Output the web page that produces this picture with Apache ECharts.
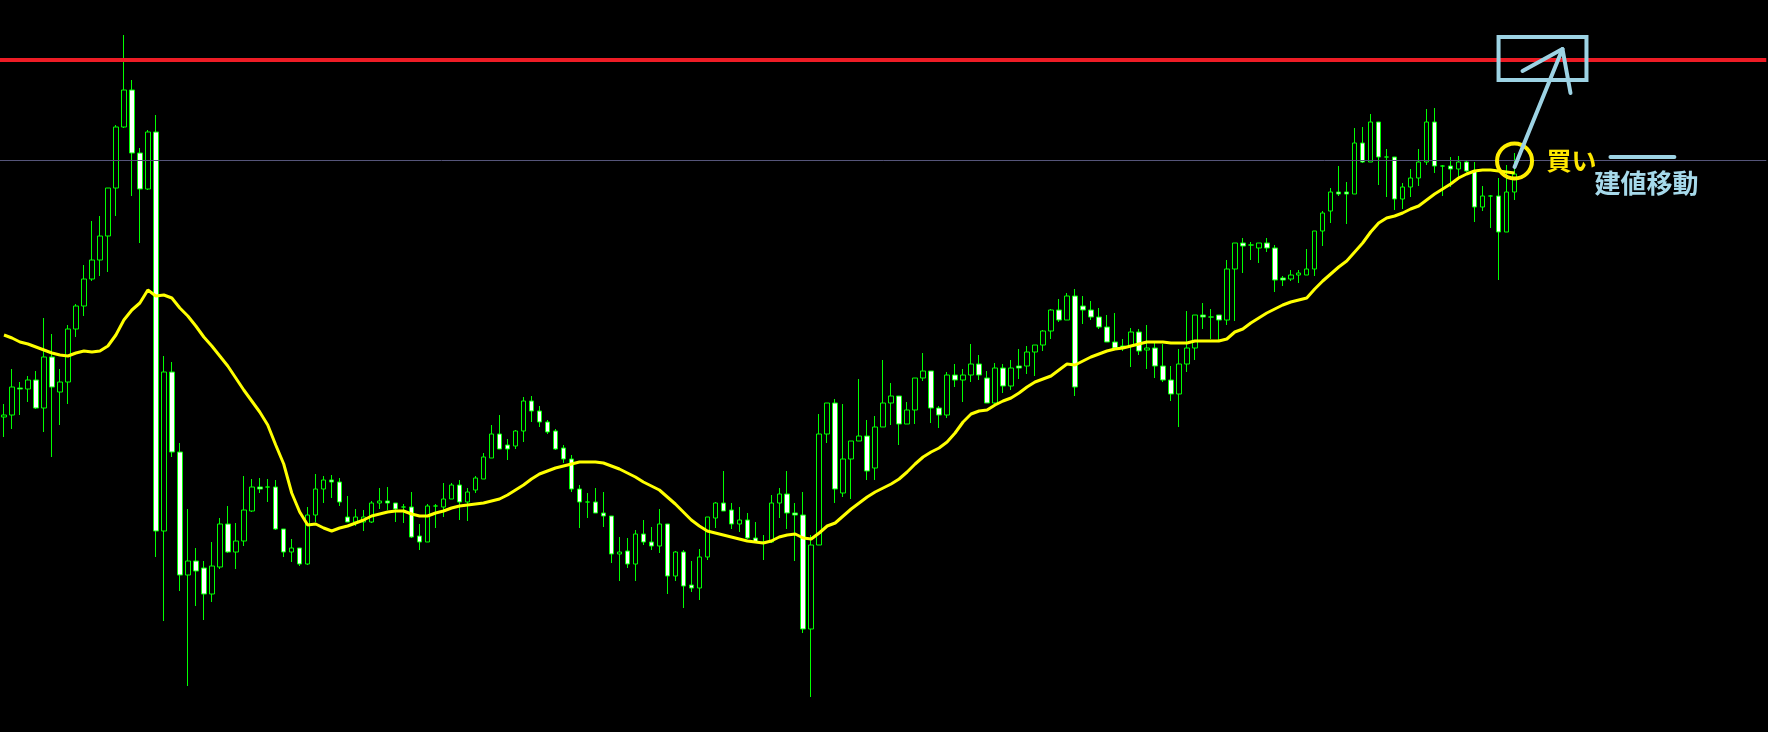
<!DOCTYPE html>
<html><head><meta charset="utf-8">
<script src="https://cdn.jsdelivr.net/npm/echarts@6/dist/echarts.min.js"></script>
<style>html,body{margin:0;padding:0;background:#000;overflow:hidden}#c{width:1768px;height:732px}</style>
</head><body><div id="c"></div>
<script>
// ---- data (price points) ----
const opens = [583,585,612,611,620,592,643,608,618,671,694,721,740,764,812,873,910,847,811,868,469,628,548,425,439,432,406,433,476,448,459,489,513,513,513,471,448,452,436,485,511,520,518,483,478,478,478,497,499,497,493,493,464,458,494,493,501,515,498,510,521,542,566,555,554,569,599,589,578,569,552,541,511,498,498,487,484,446,449,436,466,458,454,476,424,448,415,412,443,482,497,490,476,480,462,457,458,497,506,487,485,371,455,566,597,507,541,559,564,532,573,597,604,576,590,622,629,592,585,625,620,625,636,622,597,632,614,634,634,648,655,669,690,680,704,694,690,683,673,658,654,654,668,650,652,634,620,606,636,652,685,683,685,680,731,757,755,752,757,752,722,721,725,725,731,769,789,808,808,806,857,838,878,843,843,801,813,822,838,878,834,834,831,838,829,793,804,804,768,808];
const closes = [585,613,611,620,592,643,613,618,671,694,721,740,764,812,873,910,847,811,868,469,628,548,425,439,429,406,434,476,448,459,490,513,511,513,471,448,452,436,485,511,520,518,498,478,483,483,497,499,497,491,493,463,458,494,494,501,515,498,508,522,543,566,551,551,569,599,589,578,568,551,541,511,498,498,487,484,446,448,436,466,458,454,476,424,448,414,412,443,483,497,489,476,480,462,458,458,497,506,487,485,371,455,566,597,511,541,559,564,529,573,597,604,576,590,622,629,592,585,625,620,625,636,625,597,632,614,632,632,648,655,669,690,680,704,613,690,683,673,658,652,652,668,649,652,634,620,606,636,652,685,683,683,680,731,757,754,755,757,752,720,720,725,727,731,769,787,808,806,806,857,838,878,843,843,801,813,822,838,878,834,834,831,838,829,793,804,804,768,808,826];
const lows = [563,571,585,598,591,568,543,575,596,663,684,719,724,728,784,872,804,757,810,443,379,543,409,314,394,380,398,431,447,431,454,488,507,498,470,443,438,434,435,478,497,502,494,478,474,469,477,491,490,478,477,462,450,458,472,483,501,480,479,507,521,542,551,540,551,558,578,573,566,550,537,508,472,482,487,473,437,419,432,419,455,450,447,406,419,392,408,400,440,472,489,471,468,461,457,440,457,482,471,439,367,303,455,557,497,503,501,559,520,520,573,575,555,576,576,619,577,572,582,613,598,618,620,597,596,607,610,621,626,624,649,661,678,680,604,676,680,671,658,651,649,633,645,631,622,618,599,573,628,640,671,661,660,675,679,727,740,737,748,708,714,719,717,725,724,754,777,804,776,806,837,838,815,803,790,791,803,814,835,827,804,813,823,828,778,789,772,720,768,800];
const highs = [596,631,618,624,629,682,666,631,675,696,735,779,784,812,875,965,920,852,870,885,644,638,557,491,452,439,458,482,494,477,524,521,522,521,520,471,461,452,493,526,524,525,522,504,491,490,499,512,513,497,496,508,476,496,496,517,517,520,512,524,547,575,585,561,570,603,604,594,580,571,555,545,515,507,512,508,484,463,462,470,480,473,491,476,449,450,439,451,483,498,529,497,493,487,478,465,505,512,529,497,508,465,586,597,601,596,559,621,580,584,640,617,604,598,622,647,629,594,628,636,631,656,645,629,637,636,640,651,654,655,670,691,701,707,711,704,699,692,685,687,661,672,671,675,659,656,634,651,689,685,697,691,685,740,757,762,758,757,762,755,724,730,730,751,769,789,812,834,818,872,873,886,878,851,843,817,831,851,891,892,835,843,844,839,838,814,805,822,835,847];
const maValues = [665,662,658,656,653,650,647,645,644,647,649,648,649,654,665,680,690,697,710,704,705,702,692,684,674,663,654,644,634,622,610,599,588,575,555,536,507,488,475,476,472,469,472,474,477,480,484,486,488,489,489,486,484,484,487,489,492,494,495,496,497,499,501,505,510,515,521,526,529,532,534,536,538,538,538,537,534,531,527,523,518,514,510,503,496,488,480,474,469,467,465,463,461,459,458,457,459,463,465,466,462,461,467,474,477,484,491,497,503,508,512,516,521,528,536,543,548,552,558,567,578,586,589,590,595,599,602,607,613,618,621,624,630,636,635,639,643,646,649,651,652,654,656,658,658,658,657,657,657,659,659,659,659,661,668,671,677,682,687,691,695,698,700,702,711,719,726,733,739,748,757,768,777,782,784,787,791,794,800,806,811,816,822,826,829,830,830,829,828,827];
const stopLevel = 940;    // red horizontal line
const entryLevel = 840;   // thin grey horizontal line
const barCount = 221;     // bar slots across the visible window
const buyText = '買い';
const moveText = '建値移動';

// ---- chart ----
const categories = Array.from({length: barCount}, (_, i) => 'bar' + (i + 1));
const candles = opens.map((o, i) => [o, closes[i], lows[i], highs[i]]);

const chart = echarts.init(document.getElementById('c'), null, {renderer: 'canvas'});
chart.setOption({
  backgroundColor: '#000',
  animation: false,
  grid: {left: -1.7, right: 1.7, top: 0, bottom: 0},
  xAxis: {type: 'category', data: categories, boundaryGap: true, show: false},
  yAxis: {type: 'value', min: 268, max: 1000, show: false, splitLine: {show: false}},
  series: [
    {
      type: 'candlestick', data: candles, barWidth: 5, z: 2,
      itemStyle: {color: '#000000', color0: '#ffffff', borderColor: '#00ff00', borderColor0: '#00ff00', borderColorDoji: '#00ff00', borderWidth: 1},
      markLine: {
        silent: true, symbol: 'none', animation: false, label: {show: false},
        data: [
          {yAxis: entryLevel, lineStyle: {color: '#55557a', width: 1, type: 'solid'}}
        ]
      }
    },
    {
      type: 'line', data: maValues, showSymbol: false, z: 3,
      lineStyle: {color: '#ffff00', width: 3}
    },
    {
      type: 'line', data: [], z: 4,
      markLine: {
        silent: true, symbol: 'none', animation: false, label: {show: false},
        data: [{yAxis: stopLevel, lineStyle: {color: '#ee1c25', width: 4, type: 'solid'}}]
      }
    }
  ]
});

// ---- annotations, anchored in data coordinates ----
const P = (i, v) => chart.convertToPixel({gridIndex: 0}, [i, v]);
const circleCenter = P(189, 839);
const arrowStart = P(189, 833), arrowTip = P(194.8, 951);
const barbLeft = P(189.8, 929), barbRight = P(196.3, 907);
const boxA = P(186.8, 963), boxB = P(197.5, 920);
const buyPos = P(192.6, 840);
const dashA = P(201, 843), dashB = P(208.8, 843);
const movePos = P(199.1, 817);
const blue = '#9dd3e4';
chart.setOption({
  graphic: [
    {type: 'rect', z: 10, shape: {x: boxA[0], y: boxA[1], width: boxB[0] - boxA[0], height: boxB[1] - boxA[1]},
     style: {fill: null, stroke: blue, lineWidth: 4}},
    {type: 'circle', z: 11, shape: {cx: circleCenter[0], cy: circleCenter[1], r: 17.5},
     style: {fill: null, stroke: '#ffee00', lineWidth: 4}},
    {type: 'polyline', z: 12, shape: {points: [arrowStart, arrowTip]},
     style: {stroke: blue, lineWidth: 4, lineCap: 'round', fill: null}},
    {type: 'polyline', z: 12, shape: {points: [barbLeft, arrowTip, barbRight]},
     style: {stroke: blue, lineWidth: 4, lineCap: 'round', lineJoin: 'round', fill: null}},
    {type: 'text', z: 12, x: buyPos[0], y: buyPos[1],
     style: {text: buyText, fill: '#ffe800', font: 'bold 25px "Noto Sans CJK JP"', verticalAlign: 'middle', align: 'left'}},
    {type: 'line', z: 12, shape: {x1: dashA[0], y1: dashA[1], x2: dashB[0], y2: dashB[1]},
     style: {stroke: blue, lineWidth: 4, lineCap: 'round'}},
    {type: 'text', z: 12, x: movePos[0], y: movePos[1],
     style: {text: moveText, fill: '#a6d9ea', font: 'bold 26px "Noto Sans CJK JP"', verticalAlign: 'middle', align: 'left'}}
  ]
});
</script>
</body></html>
